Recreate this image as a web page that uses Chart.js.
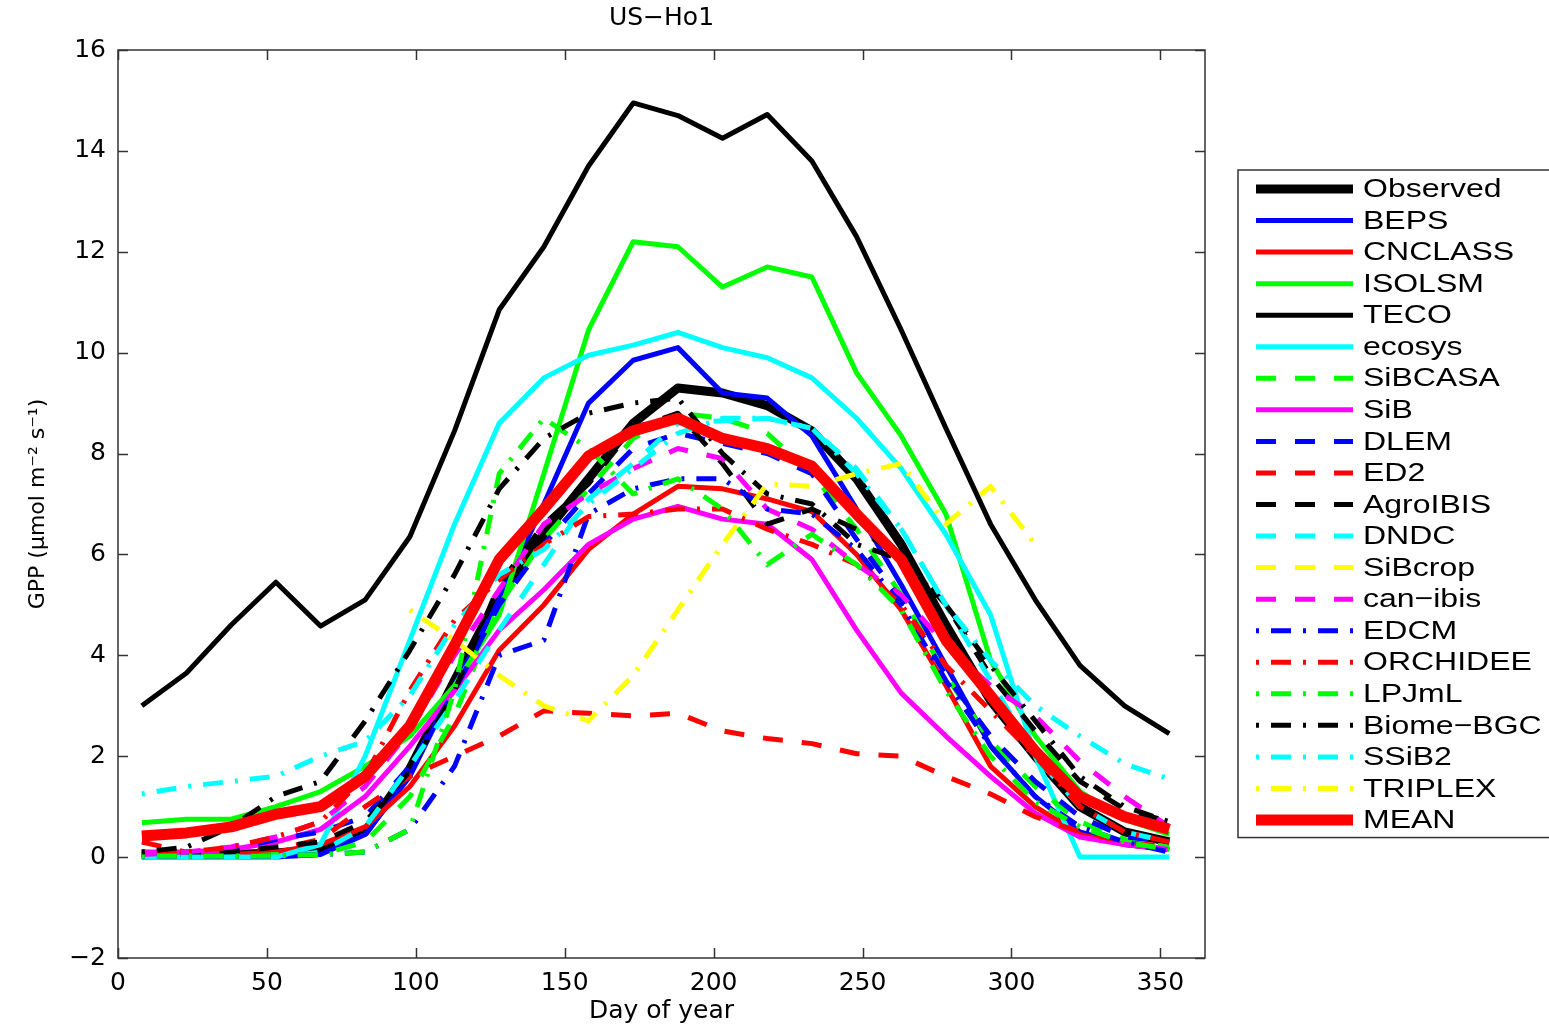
<!DOCTYPE html>
<html>
<head>
<meta charset="utf-8">
<script src="https://cdn.jsdelivr.net/npm/chart.js@4.4.1/dist/chart.umd.min.js"></script>
<style>
  html, body { margin: 0; padding: 0; background: #fff; }
  #wrap { width: 1549px; height: 1027px; }
</style>
</head>
<body>
<div id="wrap"><canvas id="gpp"></canvas></div>
<script>
// Day of year of each 15-day composite
const days = [8, 23, 38, 53, 68, 83, 98, 113, 128, 143, 158, 173, 188, 203, 218, 233, 248, 263, 278, 293, 308, 323, 338, 353];

// GPP (umol m-2 s-1), one array per model
const observed = [0.05, 0.05, 0.05, 0.08, 0.15, 0.5, 1.75, 3.5, 5.2, 6.4, 7.5, 8.6, 9.3, 9.2, 8.95, 8.45, 7.5, 6.2, 4.6, 3.1, 2.0, 1.0, 0.5, 0.3];
const beps = [0.0, 0.0, 0.0, 0.0, 0.05, 0.45, 1.6, 3.4, 5.1, 7.0, 9.0, 9.85, 10.1, 9.2, 9.1, 8.35, 6.9, 5.4, 3.8, 2.2, 1.2, 0.5, 0.25, 0.15];
const cnclass = [0.1, 0.05, 0.05, 0.1, 0.25, 0.6, 1.4, 2.6, 4.1, 5.0, 6.1, 6.8, 7.35, 7.3, 7.1, 6.85, 6.0, 4.9, 3.4, 1.8, 1.0, 0.45, 0.25, 0.15];
const isolsm = [0.68, 0.75, 0.75, 1.0, 1.3, 1.8, 2.4, 3.4, 4.8, 7.6, 10.45, 12.2, 12.1, 11.3, 11.7, 11.5, 9.6, 8.35, 6.8, 3.9, 2.4, 1.3, 0.75, 0.45];
const teco = [3.0, 3.65, 4.6, 5.45, 4.58, 5.1, 6.35, 8.45, 10.85, 12.1, 13.7, 14.95, 14.7, 14.25, 14.72, 13.8, 12.3, 10.45, 8.5, 6.6, 5.1, 3.8, 3.0, 2.45];
const ecosys = [0.0, 0.0, 0.0, 0.0, 0.25, 2.0, 4.3, 6.6, 8.6, 9.5, 9.95, 10.15, 10.4, 10.1, 9.9, 9.5, 8.7, 7.7, 6.4, 4.8, 2.0, 0.0, 0.0, 0.0];
const sibcasa = [0.05, 0.05, 0.05, 0.05, 0.05, 0.3, 1.2, 2.8, 5.0, 6.3, 7.3, 8.3, 8.8, 8.7, 8.4, 7.6, 6.5, 5.2, 3.6, 2.3, 1.4, 0.7, 0.35, 0.2];
const sib = [0.1, 0.1, 0.15, 0.3, 0.55, 1.2, 2.2, 3.3, 4.5, 5.3, 6.2, 6.7, 6.95, 6.7, 6.6, 5.9, 4.5, 3.25, 2.4, 1.6, 0.87, 0.4, 0.25, 0.15];
const dlem = [0.0, 0.05, 0.15, 0.35, 0.5, 0.8, 1.8, 3.3, 5.0, 6.2, 7.2, 8.1, 8.4, 8.2, 8.0, 7.6, 6.3, 5.1, 3.6, 2.4, 1.5, 0.8, 0.4, 0.3];
const ed2 = [0.3, 0.1, 0.1, 0.15, 0.35, 1.0, 1.6, 2.0, 2.4, 2.9, 2.85, 2.8, 2.85, 2.5, 2.35, 2.25, 2.05, 2.0, 1.6, 1.25, 0.8, 0.5, 0.3, 0.2];
const agroibis = [0.05, 0.05, 0.1, 0.2, 0.3, 0.7, 1.7, 3.3, 5.4, 6.6, 7.4, 8.5, 8.8, 7.8, 6.6, 6.9, 6.5, 6.0, 5.0, 3.6, 2.5, 1.5, 0.95, 0.7];
const dndc = [0.0, 0.0, 0.0, 0.0, 0.1, 0.6, 1.8, 3.1, 4.5, 5.8, 7.1, 7.8, 8.6, 8.65, 8.7, 8.5, 7.7, 6.5, 5.0, 3.5, 2.0, 1.0, 0.5, 0.3];
// SiBcrop has no values at this site; it only appears in the legend
const sibcrop = days.map(() => null);
const canibis = [0.05, 0.1, 0.2, 0.4, 0.7, 1.4, 2.5, 4.0, 5.3, 6.6, 7.2, 7.7, 8.1, 7.9, 6.9, 6.5, 5.8, 5.2, 4.2, 3.4, 2.8, 1.9, 1.2, 0.6];
const edcm = [0.02, 0.02, 0.02, 0.02, 0.05, 0.1, 0.55, 1.8, 4.0, 4.3, 6.8, 7.3, 7.5, 7.5, 6.9, 6.8, 6.1, 5.0, 3.5, 2.2, 1.2, 0.6, 0.3, 0.1];
const orchidee = [0.1, 0.1, 0.2, 0.4, 0.7, 1.6, 3.3, 4.7, 5.5, 6.2, 6.75, 6.8, 6.9, 6.9, 6.5, 6.2, 5.8, 5.0, 3.8, 2.9, 2.0, 1.0, 0.5, 0.3];
const lpjml = [0.02, 0.02, 0.02, 0.02, 0.05, 0.1, 0.55, 3.3, 7.6, 8.7, 8.1, 7.2, 7.5, 6.9, 5.8, 6.4, 5.8, 4.9, 3.3, 2.0, 1.1, 0.6, 0.3, 0.15];
const biomebgc = [0.1, 0.2, 0.6, 1.2, 1.5, 2.7, 4.1, 5.6, 7.3, 8.3, 8.8, 9.0, 9.1, 8.0, 7.2, 7.0, 6.2, 5.9, 5.0, 3.8, 2.7, 1.6, 1.0, 0.7];
const ssib2 = [1.25, 1.4, 1.5, 1.6, 2.0, 2.3, 3.2, 4.6, 5.6, 6.1, 7.0, 7.7, 8.4, 8.7, 8.7, 8.5, 7.6, 6.5, 5.0, 3.9, 3.0, 2.4, 1.85, 1.55];
const triplex = [null, null, null, null, null, null, 4.9, 4.3, 3.6, 3.0, 2.7, 3.6, 4.9, 6.2, 7.4, 7.35, 7.6, 7.8, 6.6, 7.35, 6.2, null, null, null];
const mean = [0.42, 0.48, 0.6, 0.85, 1.0, 1.6, 2.6, 4.2, 5.9, 6.9, 7.95, 8.45, 8.7, 8.3, 8.1, 7.75, 6.8, 5.9, 4.3, 3.2, 2.1, 1.2, 0.8, 0.55];

const seriesNames = ['Observed', 'BEPS', 'CNCLASS', 'ISOLSM', 'TECO', 'ecosys', 'SiBCASA', 'SiB', 'DLEM', 'ED2',
  'AgroIBIS', 'DNDC', 'SiBcrop', 'can\u2212ibis', 'EDCM', 'ORCHIDEE', 'LPJmL', 'Biome\u2212BGC', 'SSiB2', 'TRIPLEX', 'MEAN'];
const seriesValues = [observed, beps, cnclass, isolsm, teco, ecosys, sibcasa, sib, dlem, ed2,
  agroibis, dndc, sibcrop, canibis, edcm, orchidee, lpjml, biomebgc, ssib2, triplex, mean];

// Line styles, MATLAB-like
const SOLID = [];
const DASH = [20, 19];
const DASHDOT = [3, 12, 20, 12];
const thin = 5;
const styles = [
  { color: '#000000', width: 9, dash: SOLID },
  { color: '#0000ff', width: thin, dash: SOLID },
  { color: '#ff0000', width: thin, dash: SOLID },
  { color: '#00ff00', width: thin, dash: SOLID },
  { color: '#000000', width: thin, dash: SOLID },
  { color: '#00ffff', width: thin, dash: SOLID },
  { color: '#00ff00', width: thin, dash: DASH },
  { color: '#ff00ff', width: thin, dash: SOLID },
  { color: '#0000ff', width: thin, dash: DASH },
  { color: '#ff0000', width: thin, dash: DASH },
  { color: '#000000', width: thin, dash: DASH },
  { color: '#00ffff', width: thin, dash: DASH },
  { color: '#ffff00', width: thin, dash: DASH },
  { color: '#ff00ff', width: thin, dash: DASH },
  { color: '#0000ff', width: thin, dash: DASHDOT },
  { color: '#ff0000', width: thin, dash: DASHDOT },
  { color: '#00ff00', width: thin, dash: DASHDOT },
  { color: '#000000', width: thin, dash: DASHDOT },
  { color: '#00ffff', width: thin, dash: DASHDOT },
  { color: '#ffff00', width: thin, dash: DASHDOT },
  { color: '#ff0000', width: 11, dash: SOLID }
];

const FONT = '"DejaVu Sans", "Liberation Sans", Arial, sans-serif';
const LEGEND_FONT = '"Liberation Sans", Arial, Helvetica, sans-serif';

const datasets = seriesNames.map((name, i) => ({
  label: name,
  data: days.map((d, k) => ({ x: d, y: seriesValues[i][k] })),
  borderColor: styles[i].color,
  backgroundColor: styles[i].color,
  borderWidth: styles[i].width,
  borderDash: styles[i].dash,
  borderJoinStyle: 'round',
  pointRadius: 0,
  tension: 0,
  spanGaps: false,
  order: -i // later series are drawn on top, as in the original
}));

// Box around the axes with inward ticks on all four sides
const matlabFrame = {
  id: 'matlabFrame',
  afterDatasetsDraw(chart) {
    const { ctx, chartArea: a, scales: { x, y } } = chart;
    const len = 10;
    ctx.save();
    ctx.strokeStyle = '#333';
    ctx.lineWidth = 1.5;
    ctx.setLineDash([]);
    ctx.strokeRect(a.left, a.top, a.right - a.left, a.bottom - a.top);
    ctx.beginPath();
    x.ticks.forEach(t => {
      const px = Math.round(x.getPixelForValue(t.value)) + 0.5;
      ctx.moveTo(px, a.bottom); ctx.lineTo(px, a.bottom - len);
      ctx.moveTo(px, a.top); ctx.lineTo(px, a.top + len);
    });
    y.ticks.forEach(t => {
      const py = Math.round(y.getPixelForValue(t.value)) + 0.5;
      ctx.moveTo(a.left, py); ctx.lineTo(a.left + len, py);
      ctx.moveTo(a.right, py); ctx.lineTo(a.right - len, py);
    });
    ctx.stroke();
    ctx.restore();
  }
};

// Legend box to the right of the axes
const boxLegend = {
  id: 'boxLegend',
  afterDraw(chart) {
    const { ctx, chartArea: a } = chart;
    const left = a.right + 33, top = 170, rowH = 31.55, firstRow = 189;
    const rows = chart.data.datasets.length;
    ctx.save();
    ctx.fillStyle = '#fff';
    ctx.fillRect(left, top, 400, rows * rowH + 5);
    ctx.strokeStyle = '#333';
    ctx.lineWidth = 1.5;
    ctx.strokeRect(left, top, 400, rows * rowH + 5);
    ctx.font = '26px ' + LEGEND_FONT;
    ctx.textBaseline = 'middle';
    chart.data.datasets.forEach((ds, i) => {
      const yy = firstRow + i * rowH;
      ctx.beginPath();
      ctx.setLineDash(ds.borderDash);
      ctx.lineWidth = ds.borderWidth;
      ctx.strokeStyle = ds.borderColor;
      ctx.moveTo(left + 18, yy);
      ctx.lineTo(left + 115, yy);
      ctx.stroke();
      ctx.setLineDash([]);
      ctx.fillStyle = '#000';
      // the original lettering is set wide; stretch it horizontally
      ctx.save();
      ctx.translate(left + 125, yy + 1);
      ctx.scale(1.23, 1);
      ctx.fillText(ds.label, 0, 0);
      ctx.restore();
    });
    ctx.restore();
  }
};

new Chart(document.getElementById('gpp'), {
  type: 'line',
  data: { datasets },
  plugins: [matlabFrame, boxLegend],
  options: {
    responsive: true,
    maintainAspectRatio: false,
    animation: false,
    events: [],
    layout: { padding: { left: 0, top: 0, right: 344, bottom: 0 } },
    plugins: {
      legend: { display: false },
      tooltip: { enabled: false },
      title: {
        display: true,
        text: 'US\u2212Ho1',
        color: '#000',
        fullSize: false,
        font: { family: FONT, size: 25, weight: 'normal' },
        padding: { top: 3, bottom: 17 }
      }
    },
    scales: {
      x: {
        type: 'linear',
        min: 0,
        max: 365,
        grid: { display: false, drawTicks: false },
        border: { display: false },
        ticks: {
          stepSize: 50,
          includeBounds: false,
          padding: 10,
          color: '#000',
          maxRotation: 0,
          font: { family: FONT, size: 25 }
        },
        title: {
          display: true,
          text: 'Day of year',
          color: '#000',
          font: { family: FONT, size: 25 },
          padding: { top: 0, bottom: 1 }
        },
        afterFit(scale) { scale.height = 69; }
      },
      y: {
        min: -2,
        max: 16,
        grid: { display: false, drawTicks: false },
        border: { display: false },
        ticks: {
          stepSize: 2,
          padding: 12,
          color: '#000',
          font: { family: FONT, size: 25 },
          callback: v => String(v).replace('-', '\u2212')
        },
        title: {
          display: true,
          text: 'GPP (\u03bcmol m\u207b\u00b2 s\u207b\u00b9)',
          color: '#000',
          font: { family: FONT, size: 22 },
          padding: { top: 25, bottom: 0 }
        },
        afterFit(scale) { scale.width = 118; }
      }
    }
  }
});
</script>
</body>
</html>
